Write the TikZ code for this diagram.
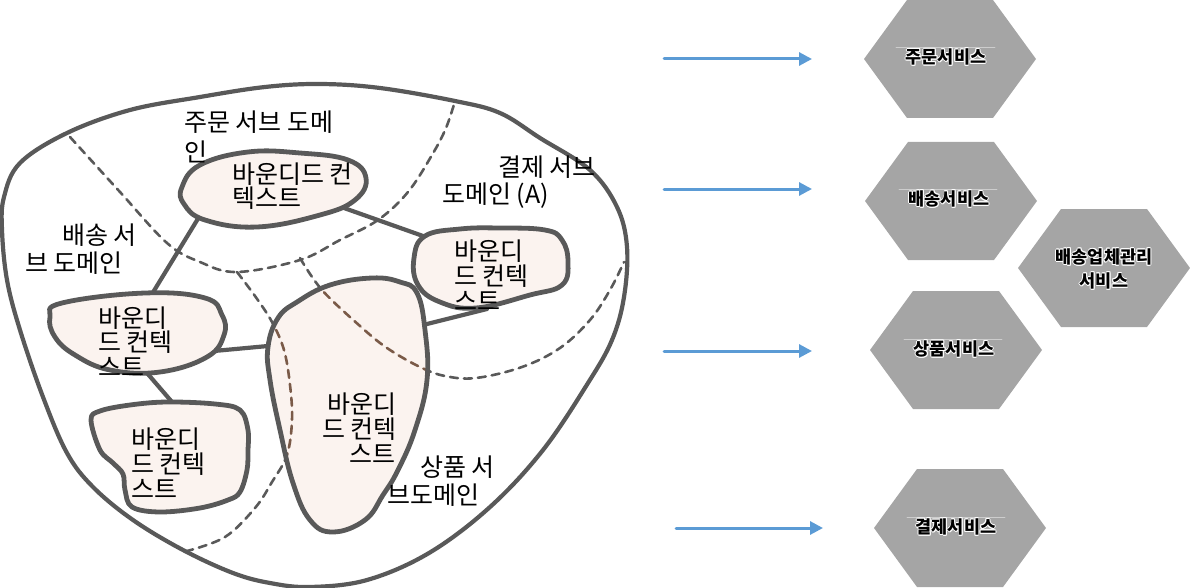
\documentclass[tikz,border=0pt]{standalone}
\usepackage{fontspec}
\setmainfont{Noto Sans CJK KR}
\usetikzlibrary{calc,arrows.meta}
\definecolor{ln}{HTML}{595959}
\definecolor{bl}{HTML}{FBF3EF}
\definecolor{br}{HTML}{7A5A48}
\definecolor{hx}{HTML}{A5A5A5}
\definecolor{ar}{HTML}{5B9BD5}
\definecolor{fl}{HTML}{CDCDCD}
\tikzset{
  outerln/.style={draw=ln, line width=4.2pt},
  ctx/.style={draw=ln, fill=bl, line width=4.8pt},
  sdash/.style={draw=ln, line width=2.6pt, dash pattern=on 8pt off 6pt},
  bdash/.style={draw=br, line width=2.6pt, dash pattern=on 8pt off 6pt},
  conn/.style={draw=ln, line width=4.2pt},
  lbl/.style={anchor=base west, inner sep=0pt, text height=17pt, text depth=2pt, font=\fontsize{25}{30}\selectfont},
  svc/.style={inner sep=0pt, font=\bfseries\fontsize{17.5}{24}\selectfont, align=center},
  flow/.style={draw=ar, line width=3pt, -{Triangle[length=13pt,width=13pt]}},
  faint/.style={draw=fl, line width=0.8pt},
  hexa/.pic={\fill[hx] (-86,0) -- (-43,-59) -- (43,-59) -- (86,0) -- (43,59) -- (-43,59) -- cycle;}
}
\newcommand{\glowlabel}[3]{%
  \foreach \gx/\gy in {-.9/0,.9/0,0/-.9,0/.9,-.65/-.65,.65/.65,-.65/.65,.65/-.65}{\node[svc,text=white] at ($(#2)+(\gx,\gy)$) {#3};}
  \node[svc] (#1) at (#2) {#3};}
\begin{document}
\begin{tikzpicture}[x=1pt,y=-1pt,line join=round,line cap=round]
\useasboundingbox (0,0) rectangle (1190,588);
% outer domain
\draw[outerln] plot[smooth cycle,tension=0.6] coordinates {(200,97) (265,87) (320,84) (380,88) (455,101) (500,113) (540,138) (590,170) (617,207) (627,247) (624,297) (612,340) (588,383) (543,450) (490,507) (429,553) (367,580) (310,587) (270,583) (233,573) (183,550) (133,520) (93,487) (67,453) (43,397) (20,330) (7,280) (2,230) (4,197) (20,163) (67,133) (130,110)};
% dashed subdomain borders
\draw[sdash] plot[smooth,tension=0.6] coordinates {(70,137) (120,192) (167,243) (200,262) (237,272) (300,260) (340,240) (378,220) (408,192) (432,155) (446,128) (455,101)};
\draw[sdash] plot[smooth,tension=0.6] coordinates {(237,272) (255,296) (272,322) (284,350) (290,385) (292,420) (287,455) (272,482) (255,508) (225,537) (187,551)};
\draw[sdash] plot[smooth,tension=0.6] coordinates {(300,258) (322,290) (360,326) (387,348) (420,367) (445,376) (476,378) (522,367) (560,348) (590,320) (610,290) (624,262)};
% connector end points
\coordinate (c1a) at (344,208); \coordinate (c1b) at (423,236);
\coordinate (c2a) at (199,217); \coordinate (c2b) at (152,294);
\coordinate (c3a) at (214,351); \coordinate (c3b) at (268,346);
\coordinate (c4a) at (147,373); \coordinate (c4b) at (172,402);
\coordinate (c5a) at (423,325); \coordinate (c5b) at (487,309);
\draw[conn] (c1a) -- (c1b);
\draw[conn] (c2a) -- (c2b);
\draw[conn] (c3a) -- (c3b);
\draw[conn] (c4a) -- (c4b);
\draw[conn] (c5a) -- (c5b);
% bounded contexts
\draw[ctx] plot[smooth cycle,tension=0.7] coordinates {(182,187) (200,165) (248,152) (300,153) (348,160) (366,178) (355,200) (320,215) (257,227) (205,220) (184,204)};
\draw[ctx] plot[smooth cycle,tension=0.7] coordinates {(414,258) (425,236) (460,229) (500,228) (545,230) (562,240) (568,262) (562,285) (530,295) (476,308) (440,302) (418,285)};
\draw[ctx] plot[smooth cycle,tension=0.7] coordinates {(50,317) (62,303) (145,293) (205,298) (222,315) (224,335) (207,357) (160,372) (110,370) (75,355) (55,337)};
\draw[ctx] plot[smooth cycle,tension=0.6] coordinates {(91,420) (100,411) (130,405) (167,402) (215,404) (240,410) (248,430) (248,450) (247,470) (240,492) (228,500) (200,508) (160,512) (132,507) (125,490) (123,474) (113,463) (100,450)};
\begin{scope}
  \clip plot[smooth cycle,tension=0.7] coordinates {(372,278) (400,282) (417,293) (425,330) (427,380) (415,430) (398,470) (383,495) (365,520) (333,532) (310,520) (293,483) (280,430) (270,380) (268,347) (278,318) (297,302) (330,285)};
  \fill[bl] (0,0) rectangle (640,588);
  \draw[bdash] plot[smooth,tension=0.6] coordinates {(237,272) (255,296) (272,322) (284,350) (290,385) (292,420) (287,455) (272,482) (255,508) (225,537) (187,551)};
  \draw[bdash] plot[smooth,tension=0.6] coordinates {(300,258) (322,290) (360,326) (387,348) (420,367) (445,376) (476,378) (522,367) (560,348) (590,320) (610,290) (624,262)};
\end{scope}
\draw[ctx,fill=none] plot[smooth cycle,tension=0.7] coordinates {(372,278) (400,282) (417,293) (425,330) (427,380) (415,430) (398,470) (383,495) (365,520) (333,532) (310,520) (293,483) (280,430) (270,380) (268,347) (278,318) (297,302) (330,285)};
% texts
\node[lbl] (t1) at (184,132) {주문 서브 도메};
\node[lbl] (t2) at (184,161) {인};
\node[lbl] (t3) at (232,183) {바운디드 컨};
\node[lbl] (t4) at (232,207) {텍스트};
\node[lbl] (t5) at (498,177) {결제 서브};
\node[lbl] (t6) at (442,204) {도메인 (A)};
\node[lbl] (t7) at (62,244) {배송 서};
\node[lbl] (t8) at (25,272) {브 도메인};
\node[lbl] (t9) at (454,260) {바운디};
\node[lbl] (t10) at (454,285) {드 컨텍};
\node[lbl] (t11) at (454,310) {스트};
\node[lbl] (t12) at (98,327) {바운디};
\node[lbl] (t13) at (98,351) {드 컨텍};
\node[lbl] (t14) at (98,376) {스트};
\node[lbl] (t15) at (131,448) {바운디};
\node[lbl] (t16) at (131,473) {드 컨텍};
\node[lbl] (t17) at (131,498) {스트};
\node[lbl] (t18) at (327,413) {바운디};
\node[lbl] (t19) at (322,438) {드 컨텍};
\node[lbl] (t20) at (349,463) {스트};
\node[lbl] (t21) at (420,476) {상품 서};
\node[lbl] (t22) at (387,504) {브도메인};
% arrows
\coordinate (a1s) at (664,59);  \coordinate (a1e) at (812,59);
\coordinate (a2s) at (664,189); \coordinate (a2e) at (812,189);
\coordinate (a3s) at (664,351); \coordinate (a3e) at (812,351);
\coordinate (a4s) at (676,528); \coordinate (a4e) at (823,528);
\draw[flow] (a1s) -- (a1e);
\draw[flow] (a2s) -- (a2e);
\draw[flow] (a3s) -- (a3e);
\draw[flow] (a4s) -- (a4e);
% services
\pic at (950,59) {hexa};
\pic at (951,201) {hexa};
\pic at (1104,268) {hexa};
\pic at (956,350) {hexa};
\pic at (960,528) {hexa};
\draw[faint] (896,47) -- (995,47);
\draw[faint] (899,189) -- (997,189);
\draw[faint] (904,339) -- (1002,339);
\draw[faint] (907,517) -- (1005,517);
\glowlabel{s1}{946,57}{주문서비스}
\glowlabel{s2}{949,199}{배송서비스}
\glowlabel{s3}{1104,269}{배송업체관리\\서비스}
\glowlabel{s4}{954,349}{상품서비스}
\glowlabel{s5}{956,527}{결제서비스}
\end{tikzpicture}
\end{document}
